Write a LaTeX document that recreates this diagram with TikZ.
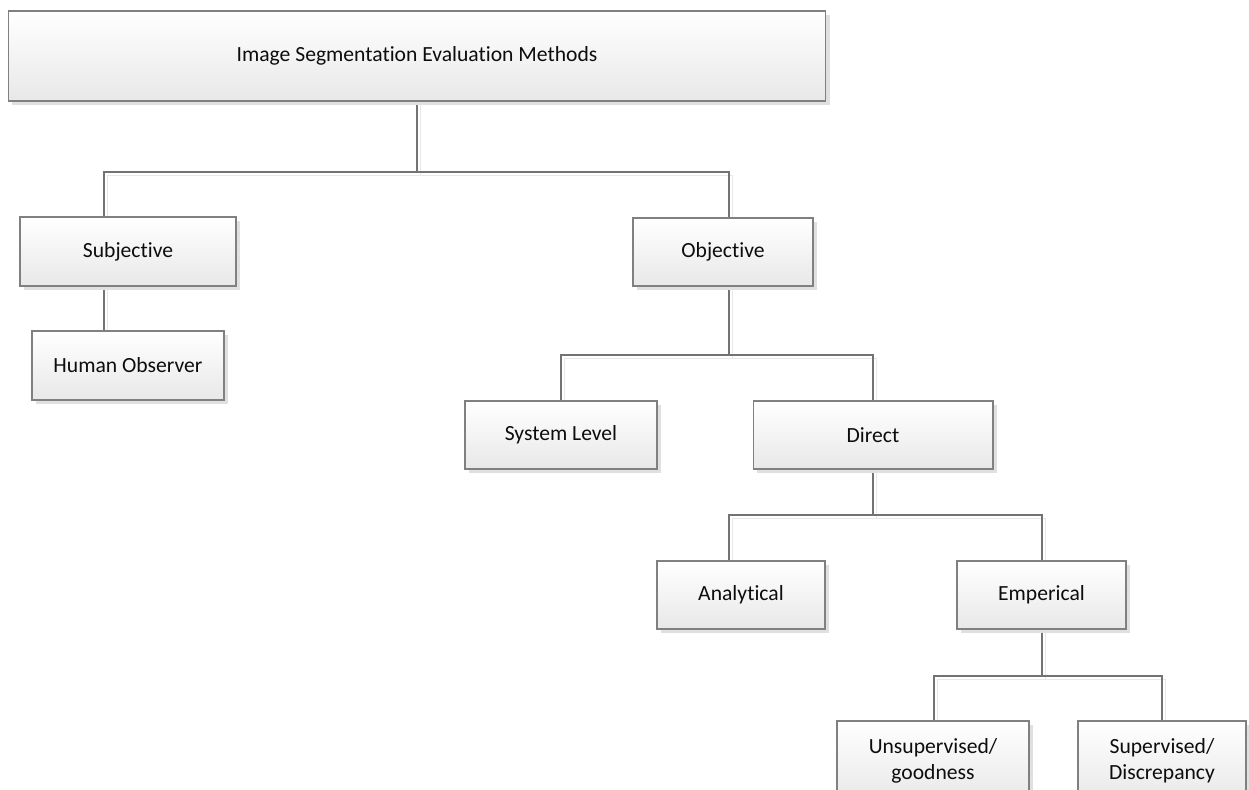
\documentclass[tikz,border=0pt]{standalone}
\usepackage{fontspec}
\setmainfont{Carlito}[Ligatures=NoCommon]
\usetikzlibrary{shadows,backgrounds}

\tikzset{
  box/.style={rectangle, draw=black!50, line width=0.6pt, top color=white, bottom color=black!9,
    text=black!95, align=center, font=\fontsize{12.3}{14.7}\selectfont,
    drop shadow={shadow xshift=2.2pt, shadow yshift=-2.2pt, fill=black!12, opacity=1}},
  link/.style={draw=black!55, line width=0.6pt,
    preaction={draw=black!9, line width=0.6pt, transform canvas={xshift=2.2pt, yshift=-2.2pt}}}
}

\begin{document}
\begin{tikzpicture}[x=0.02cm, y=-0.02cm]
\useasboundingbox (0,0) rectangle (1249,789);
\clip (0,0) rectangle (1249,789);

\node [box, minimum width=16.36cm, minimum height=1.8cm] (top) at (417,56) {Image Segmentation Evaluation Methods};

\node [box, minimum width=4.32cm, minimum height=1.38cm] (sub) at (128,251.5) {Subjective};
\node [box, minimum width=3.84cm, minimum height=1.38cm] (hum) at (128,365.5) {Human Observer};
\node [box, minimum width=3.6cm, minimum height=1.36cm] (obj) at (723,252) {Objective};

\node [box, minimum width=3.84cm, minimum height=1.36cm] (sys) at (561,435) {System Level};
\node [box, minimum width=4.8cm, minimum height=1.36cm] (dir) at (873,435) {Direct};

\node [box, minimum width=3.36cm, minimum height=1.36cm] (ana) at (741,595) {Analytical};
\node [box, minimum width=3.38cm, minimum height=1.36cm] (emp) at (1041.5,595) {Emperical};

\node [box, minimum width=3.84cm, minimum height=1.6cm] (uns) at (933,761) {Unsupervised/\\goodness};
\node [box, minimum width=3.36cm, minimum height=1.6cm] (sup) at (1162,761) {Supervised/\\Discrepancy};

% junctions of the tree
\coordinate (a1) at (104,172);
\coordinate (a2) at (729,172);
\coordinate (b1) at (561,355);
\coordinate (b2) at (873,355);
\coordinate (c1) at (729,515);
\coordinate (c2) at (1042,515);
\coordinate (d1) at (934,676);
\coordinate (d2) at (1162,676);

\begin{scope}[on background layer]
\draw [link] (top.south) |- (a1) -- (a1 |- sub.north);
\draw [link] (top.south) |- (a2) -- (a2 |- obj.north);
\draw [link] (a1 |- sub.south) -- (a1 |- hum.north);

\draw [link] (a2 |- obj.south) |- (b1) -- (b1 |- sys.north);
\draw [link] (a2 |- obj.south) |- (b2) -- (b2 |- dir.north);

\draw [link] (dir.south) |- (c1) -- (c1 |- ana.north);
\draw [link] (dir.south) |- (c2) -- (c2 |- emp.north);

\draw [link] (c2 |- emp.south) |- (d1) -- (d1 |- uns.north);
\draw [link] (c2 |- emp.south) |- (d2) -- (d2 |- sup.north);
\end{scope}
\end{tikzpicture}
\end{document}
